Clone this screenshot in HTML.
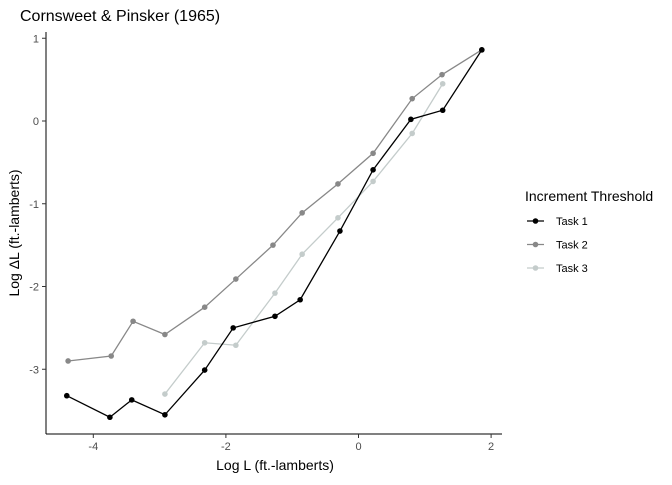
<!DOCTYPE html>
<html><head><meta charset="utf-8"><style>
body{margin:0;background:#fff;}
svg text{font-family:"Liberation Sans",sans-serif;}
</style></head><body>
<svg id="c" width="672" height="480" xmlns="http://www.w3.org/2000/svg">
<text x="20" y="21" font-size="16" fill="#000">Cornsweet &amp; Pinsker (1965)</text>
<g id="plot"></g>
<text x="275" y="470" font-size="14" text-anchor="middle">Log L (ft.-lamberts)</text>
<text transform="translate(19,233) rotate(-90)" font-size="14" text-anchor="middle">Log ΔL (ft.-lamberts)</text>
<g>
<text x="525" y="201" font-size="14">Increment Threshold</text>
<g id="leg"></g>
</g>
</svg>
<script>
const xTicks=[-4,-2,0,2];
const yTicks=[1,0,-1,-2,-3];
const seriesNames=["Task 1","Task 2","Task 3"];
const seriesColors=["#000000","#888888","#c4cccb"];
const x1=[-4.40,-3.75,-3.42,-2.92,-2.32,-1.89,-1.26,-0.88,-0.28,0.22,0.79,1.27,1.86];
const y1=[-3.32,-3.58,-3.37,-3.55,-3.01,-2.50,-2.36,-2.16,-1.33,-0.59,0.02,0.13,0.86];
const x2=[-4.38,-3.73,-3.40,-2.92,-2.32,-1.85,-1.29,-0.85,-0.31,0.22,0.81,1.26,1.86];
const y2=[-2.90,-2.84,-2.42,-2.58,-2.25,-1.91,-1.50,-1.11,-0.76,-0.39,0.27,0.56,0.86];
const x3=[-2.92,-2.32,-1.85,-1.26,-0.85,-0.31,0.22,0.81,1.27];
const y3=[-3.30,-2.68,-2.71,-2.08,-1.61,-1.17,-0.73,-0.15,0.45];
const NS="http://www.w3.org/2000/svg";
const sx=v=>358.5+v*66.3, sy=v=>121-v*82.75;
const plot=document.getElementById('plot');
function mk(t,a,p){const e=document.createElementNS(NS,t);for(const k in a)e.setAttribute(k,a[k]);(p||plot).appendChild(e);return e;}
let ax=mk('line',{x1:46,y1:434,x2:502,y2:434,stroke:'#000','stroke-width':1});


let ay=mk('line',{x1:46,y1:32,x2:46,y2:434,stroke:'#000','stroke-width':1});


xTicks.forEach(t=>{mk('line',{x1:sx(t),x2:sx(t),y1:434,y2:438,stroke:'#333'});
 const tx=mk('text',{x:sx(t),y:450,'font-size':11,fill:'#4d4d4d','text-anchor':'middle'});tx.textContent=t;
 
 });
yTicks.forEach(t=>{mk('line',{x1:42,x2:46,y1:sy(t),y2:sy(t),stroke:'#333'});
 const tx=mk('text',{x:39,y:sy(t)+4,'font-size':11,fill:'#4d4d4d','text-anchor':'end'});tx.textContent=t;
 
 });
const XS=[x1,x2,x3],YS=[y1,y2,y3];
[1,2,0].forEach(s=>{const g=mk('g',{});
 
 
 const pts=XS[s].map((v,i)=>sx(v)+','+sy(YS[s][i])).join(' ');
 mk('polyline',{points:pts,fill:'none',stroke:seriesColors[s],'stroke-width':1.3},g);
 XS[s].forEach((v,i)=>{const c=mk('circle',{cx:sx(v),cy:sy(YS[s][i]),r:2.8,fill:seriesColors[s]},g);
  
  });});
const leg=document.getElementById('leg');
seriesNames.forEach((n,i)=>{const y=221+i*23.5;const g=mk('g',{},leg);
 
 
 mk('line',{x1:527,x2:544,y1:y,y2:y,stroke:seriesColors[i],'stroke-width':1.3},g);
 mk('circle',{cx:535.5,cy:y,r:2.8,fill:seriesColors[i]},g);
 const t=mk('text',{x:556,y:y+4,'font-size':11,fill:'#000'},g);t.textContent=n;});
</script>
</body></html>
